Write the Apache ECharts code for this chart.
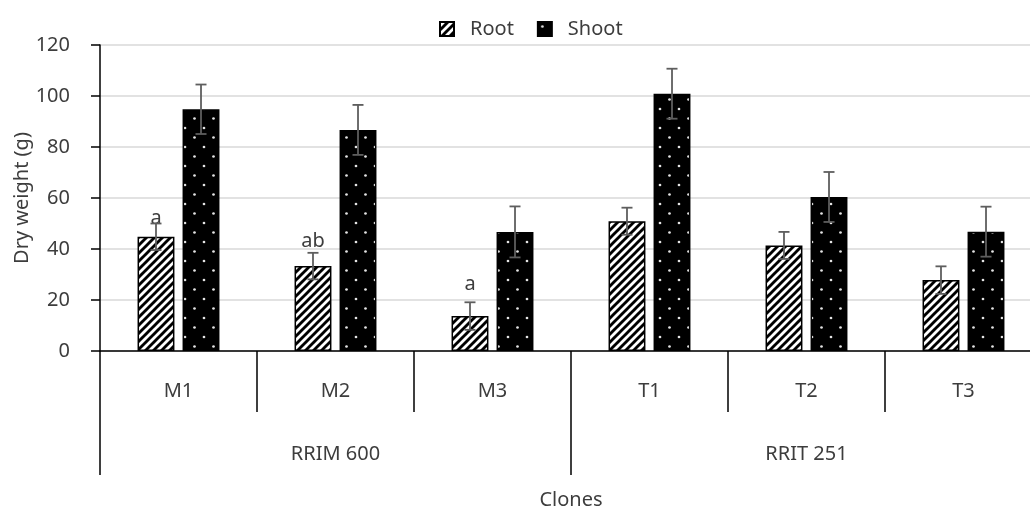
<!DOCTYPE html>
<html>
<head>
<meta charset="utf-8">
<title>Dry weight by clone</title>
<script src="https://cdn.jsdelivr.net/npm/echarts@6/dist/echarts.min.js"></script>
<style>
  html, body { margin: 0; padding: 0; background: #fff; }
  #chart { width: 1030px; height: 508px; }
</style>
</head>
<body>
<div id="chart"></div>
<script>
// Clones and the two parent groups they belong to
const categories = ['M1', 'M2', 'M3', 'T1', 'T2', 'T3'];
const groups = ['RRIM 600', 'RRIT 251'];

// Mean dry weight (g) and standard error per clone
const rootValues = [44.8, 33.3, 13.7, 50.9, 41.4, 27.8];
const rootErrors = [5.2, 5.2, 5.4, 5.3, 5.3, 5.4];
const shootValues = [94.8, 86.7, 46.7, 100.9, 60.4, 46.8];
const shootErrors = [9.7, 9.8, 10.0, 9.8, 9.8, 9.8];

// Significance letters above the root bars
const rootLetters = ['a', 'ab', 'a', '', '', ''];
const letterGaps = [8, 15, 22, 0, 0, 0];

const yTicks = { min: 0, max: 120, interval: 20 };

const FONT = 'Noto Sans';
const TEXT = '#3d3d3d';
const BAR_RATIO = 0.235;
const BAR_GAP = 0.22;

// Wide upward diagonal hatch
function hatchPattern() {
  const s = 8;
  const c = document.createElement('canvas');
  c.width = s; c.height = s;
  const g = c.getContext('2d');
  g.fillStyle = '#fff';
  g.fillRect(0, 0, s, s);
  g.strokeStyle = '#000';
  g.lineWidth = 2.9;
  for (let k = -s; k <= s; k += s) {
    g.beginPath();
    g.moveTo(k - 1, s + 1);
    g.lineTo(k + s + 1, -1);
    g.stroke();
  }
  return c;
}

// Black fill with staggered light dots
function dotPattern() {
  const s = 19;
  const c = document.createElement('canvas');
  c.width = s; c.height = s;
  const g = c.getContext('2d');
  g.fillStyle = '#000';
  g.fillRect(0, 0, s, s);
  g.fillStyle = '#e4e4e4';
  [[4.5, 4.5], [14, 14]].forEach(([x, y]) => {
    g.beginPath();
    g.arc(x, y, 1.35, 0, Math.PI * 2);
    g.fill();
  });
  return c;
}

const hatch = { image: hatchPattern(), repeat: 'repeat' };
const dots = { image: dotPattern(), repeat: 'repeat' };

function errorBars(sign) {
  return function (params, api) {
    const i = api.value(0);
    const v = api.value(1);
    const e = api.value(2);
    const band = api.size([1, 0])[0];
    const bw = band * BAR_RATIO;
    const off = sign * bw * (1 + BAR_GAP) / 2;
    const top = api.coord([i, v + e]);
    const bot = api.coord([i, v - e]);
    const x = top[0] + off;
    const cap = 5.5;
    const style = { stroke: '#5e5e5e', lineWidth: 1.8 };
    return {
      type: 'group',
      children: [
        { type: 'line', shape: { x1: x, y1: top[1], x2: x, y2: bot[1] }, style },
        { type: 'line', shape: { x1: x - cap, y1: top[1], x2: x + cap, y2: top[1] }, style },
        { type: 'line', shape: { x1: x - cap, y1: bot[1], x2: x + cap, y2: bot[1] }, style }
      ]
    };
  };
}

const chart = echarts.init(document.getElementById('chart'), null, { renderer: 'canvas' });

chart.setOption({
  animation: false,
  textStyle: { fontFamily: FONT },
  legend: {
    data: ['Root', 'Shoot'],
    left: 434,
    top: 14,
    icon: 'rect',
    itemWidth: 14,
    itemHeight: 14,
    itemGap: 23,
    textStyle: { fontFamily: FONT, fontSize: 20, color: TEXT, padding: [0, 0, 0, 11] }
  },
  grid: {
    left: 100,
    right: -12,
    top: 45,
    bottom: 157,
    outerBoundsMode: 'none',
    containLabel: false
  },
  xAxis: [
    {
      type: 'category',
      data: categories,
      position: 'bottom',
      axisLine: { show: true, lineStyle: { color: '#000', width: 1.5 } },
      axisTick: { show: true, interval: 0, length: 61, lineStyle: { color: '#000', width: 1.5 } },
      axisLabel: { interval: 0, margin: 30, fontSize: 20, color: TEXT, fontFamily: FONT },
      splitLine: { show: false }
    },
    {
      type: 'category',
      data: groups,
      position: 'bottom',
      axisLine: { show: false },
      axisTick: { show: true, interval: 0, length: 124, lineStyle: { color: '#000', width: 1.5 } },
      axisLabel: { interval: 0, margin: 93, fontSize: 20, color: TEXT, fontFamily: FONT },
      splitLine: { show: false },
      name: 'Clones',
      nameLocation: 'middle',
      nameGap: 139,
      nameTextStyle: { fontSize: 20, color: TEXT, fontFamily: FONT }
    }
  ],
  yAxis: {
    type: 'value',
    min: yTicks.min,
    max: yTicks.max,
    interval: yTicks.interval,
    axisLine: { show: true, lineStyle: { color: '#000', width: 1.5 } },
    axisTick: { show: true, length: 9, lineStyle: { color: '#000', width: 1.5 } },
    axisLabel: { margin: 30, fontSize: 20, color: TEXT, fontFamily: FONT },
    splitLine: { show: true, lineStyle: { color: '#d9d9d9', width: 1.5 } },
    name: 'Dry weight (g)',
    nameLocation: 'middle',
    nameRotate: 90,
    nameGap: 68,
    nameMoveOverlap: false,
    nameTextStyle: { fontSize: 20, color: TEXT, fontFamily: FONT }
  },
  series: [
    {
      name: 'Root',
      type: 'bar',
      xAxisIndex: 0,
      barWidth: (BAR_RATIO * 100) + '%',
      barGap: (BAR_GAP * 100) + '%',
      itemStyle: { color: hatch, borderColor: '#000', borderWidth: 1.5 },
      data: rootValues.map((v, i) => ({
        value: v,
        label: {
          show: rootLetters[i] !== '',
          position: 'top',
          distance: letterGaps[i],
          formatter: rootLetters[i],
          fontSize: 20,
          color: TEXT,
          fontFamily: FONT
        }
      })),
      z: 2
    },
    {
      name: 'Shoot',
      type: 'bar',
      xAxisIndex: 0,
      barWidth: (BAR_RATIO * 100) + '%',
      barGap: (BAR_GAP * 100) + '%',
      itemStyle: { color: dots, borderColor: '#000', borderWidth: 1.5 },
      data: shootValues,
      z: 2
    },
    {
      type: 'custom',
      xAxisIndex: 0,
      renderItem: errorBars(-1),
      encode: { x: 0, y: 1 },
      data: rootValues.map((v, i) => [i, v, rootErrors[i]]),
      z: 3,
      silent: true
    },
    {
      type: 'custom',
      xAxisIndex: 0,
      renderItem: errorBars(1),
      encode: { x: 0, y: 1 },
      data: shootValues.map((v, i) => [i, v, shootErrors[i]]),
      z: 3,
      silent: true
    }
  ]
});
</script>
</body>
</html>
